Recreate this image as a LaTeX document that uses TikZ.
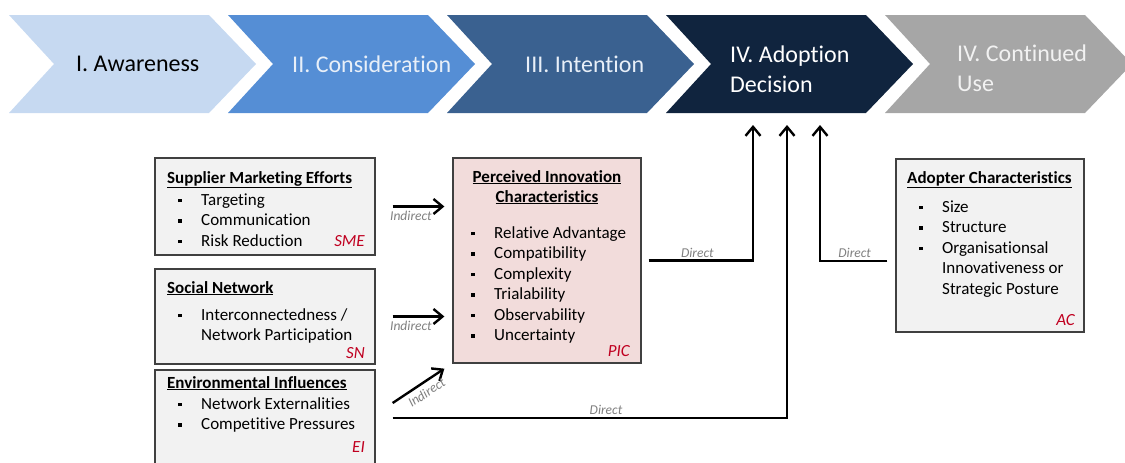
\documentclass[tikz,border=0pt]{standalone}
\usepackage{fontspec}
\setmainfont{Carlito}[Ligatures=NoCommon]
\usetikzlibrary{positioning}
\usetikzlibrary{arrows.meta}

\definecolor{awarecol}{HTML}{C6D9F1}
\definecolor{considcol}{HTML}{558ED5}
\definecolor{intentcol}{HTML}{3A6190}
\definecolor{adoptcol}{HTML}{10243E}
\definecolor{usecol}{HTML}{A6A6A6}
\definecolor{lighttext}{HTML}{E8EFF8}
\definecolor{boxgrey}{HTML}{F2F2F2}
\definecolor{boxpink}{HTML}{F2DCDB}
\definecolor{boxline}{HTML}{404040}
\definecolor{tagred}{HTML}{C00020}
\definecolor{labelgrey}{HTML}{7F7F7F}

\newcommand{\bul}{\makebox[23pt][l]{\rule[3pt]{3.5pt}{3.5pt}}}
\newcommand{\ind}{\hspace{23pt}}

\begin{document}
\begin{tikzpicture}[x=1pt,y=-1pt,
	stage/.style={font=\fontsize{24}{30}\selectfont,align=left,anchor=west,inner sep=0pt},
	factor box/.style={draw=boxline,line width=1.3pt,fill=boxgrey,inner sep=0pt},
	box title/.style={font=\fontsize{17}{20.5}\selectfont\bfseries,anchor=base west,inner sep=0pt},
	box list/.style={font=\fontsize{17}{20.5}\selectfont,align=left,anchor=base west,inner sep=0pt},
	box tag/.style={font=\fontsize{17}{20}\selectfont\itshape,text=tagred,anchor=base east,inner sep=0pt},
	link/.style={line width=2.4pt,-{Straight Barb[length=9pt,width=15pt]}},
	link label/.style={font=\fontsize{13.5}{15}\selectfont\itshape,text=labelgrey,inner sep=1pt}]
	
	\useasboundingbox (0,0) rectangle (1125,463);
	
	% stages
	\foreach \k/\col in {0/awarecol,1/considcol,2/intentcol,3/adoptcol,4/usecol}
	\fill[\col] ({9+219*\k},15) -- ++(200,0) -- ++(47,49) -- ++(-47,49)
	-- ++(-200,0) -- ++(45,-49) -- cycle;
	
	\node[stage,text=black] (aware) at (76,64) {I. Awareness};
	\node[stage,text=lighttext] (consid) at (292,64) {II. Consideration};
	\node[stage,text=lighttext] (intent) at (525,64) {III. Intention};
	\node[stage,text=white] (adoption) at (730,69) {IV. Adoption\\Decision};
	\node[stage,text=boxgrey] (use) at (957,68) {IV. Continued\\Use};
	\coordinate (adopt) at (787,125);
	
	% factor boxes
	\node[factor box,minimum width=220pt,minimum height=97pt] (sme) at (265,206.5) {};
	\node[factor box,minimum width=220pt,minimum height=95pt] (sn) at (265,316.5) {};
	\node[factor box,minimum width=220pt,minimum height=96pt] (ei) at (265,418) {};
	\node[factor box,fill=boxpink,minimum width=188pt,minimum height=205pt] (pic) at (547,260.5) {};
	\node[factor box,minimum width=188pt,minimum height=173pt] (ac) at (990,245.5) {};
	
	% box texts (base = last line)
	\node[box title] at (167,183) {\underline{Supplier Marketing Efforts}};
	\node[box list] at (178,246) {\bul Targeting\\\bul Communication\\\bul Risk Reduction};
	\node[box tag] at (365,246) {SME};
	
	\node[box title] at (167,293) {\underline{Social Network}};
	\node[box list] at (178,340.5) {\bul Interconnectedness /\\\ind Network Participation};
	\node[box tag] at (365,358) {SN};
	
	\node[box title] at (167,388) {\underline{Environmental Influences}};
	\node[box list] at (178,429.5) {\bul Network Externalities\\\bul Competitive Pressures};
	\node[box tag] at (365,452) {EI};
	
	\node[box title,anchor=base] at (547,182) {\underline{Perceived Innovation}};
	\node[box title,anchor=base] at (547,202) {\underline{Characteristics}};
	\node[box list] at (471,340.5) {\bul Relative Advantage\\\bul Compatibility\\\bul Complexity\\
		\bul Trialability\\\bul Observability\\\bul Uncertainty};
	\node[box tag] at (630,356) {PIC};
	
	\node[box title] at (907,183) {\underline{Adopter Characteristics}};
	\node[box list] at (919,294) {\bul Size\\\bul Structure\\\bul Organisationsal\\
		\ind Innovativeness or\\\ind Strategic Posture};
	\node[box tag] at (1075,325) {AC};
	
	% indirect links
	\draw[link,shorten <=17pt,shorten >=8pt] (sme.east) -- node[link label,below=2pt,pos=0.46] {Indirect} (sme.east -| pic.west);
	\draw[link,shorten <=17pt,shorten >=8pt] (sn.east) -- node[link label,below=2pt,pos=0.46] {Indirect} (sn.east -| pic.west);
	\draw[link] ([xshift=17pt,yshift=15pt]ei.east) -- node[link label,sloped,below=3pt,pos=0.55] {Indirect} ([xshift=-8pt,yshift=-5pt]pic.south west);
	
	% direct links
	\draw[link,shorten <=7pt] (pic.east) -| node[link label,above=1pt,pos=0.25] {Direct} ([xshift=-34pt]adopt);
	\draw[link,shorten <=17pt] (ei.east) -| node[link label,above=1pt,pos=0.28] {Direct} (adopt);
	\draw[link,shorten <=8pt] ([yshift=-15.5pt]ac.west) -| node[link label,above=1pt,pos=0.27] {Direct} ([xshift=33pt]adopt);
\end{tikzpicture}
\end{document}
